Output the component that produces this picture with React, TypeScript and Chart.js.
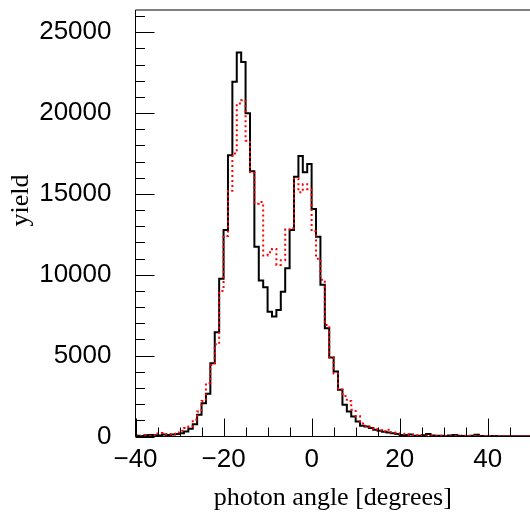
import React, { useEffect, useRef } from "react";
import { Chart, registerables } from "chart.js";

Chart.register(...registerables);

// Histogram binning (1 degree bins starting at -40)
const BIN_START = -40;
const BIN_WIDTH = 1;

// yield per bin, black solid histogram (bins -40 .. 49)
const blackCounts = [
  60, 40, 30, 80, 100, 70, 60, 120, 100, 120,
  150, 200, 310, 480, 760, 1340, 2060, 2650, 4530, 6450,
  9750, 12780, 17400, 21940, 23750, 23170, 19990, 16400, 11740, 9650,
  9230, 7720, 7420, 7830, 8960, 10400, 12780, 16070, 17350, 16340,
  16850, 14070, 12360, 9380, 6700, 4880, 4020, 2890, 1960, 1545,
  1240, 930, 660, 620, 520, 415, 350, 300, 250, 200,
  150, 100, 90, 120, 50, 40, 80, 150, 60, 40,
  50, 30, 60, 100, 40, 30, 20, 40, 110, 30,
  20, 20, 30, 20, 10, 20, 10, 20, 10, 20,
];

// yield per bin, red dotted histogram (bins -40 .. 49)
const redCounts = [
  40, 60, 30, 50, 40, 80, 180, 210, 120, 160,
  250, 350, 520, 620, 1030, 1550, 2200, 3300, 4430, 5700,
  9000, 12400, 15200, 17500, 20600, 20800, 18300, 16300, 14400, 14500,
  11200, 11400, 11600, 10600, 10900, 12800, 12900, 15950, 15100, 15600,
  15300, 12700, 11000, 9700, 6900, 4900, 3900, 2900, 2500, 2200,
  1650, 1250, 800, 650, 600, 450, 380, 320, 420, 250,
  220, 170, 150, 80, 50, 70, 60, 40, 50, 30,
  40, 30, 20, 30, 20, 40, 30, 20, 30, 20,
  20, 30, 20, 10, 20, 20, 10, 20, 10, 20,
];

const xTickValues = [-40, -20, 0, 20, 40];
const yTickValues = [0, 5000, 10000, 15000, 20000, 25000];
const X_MINOR_STEP = 5;
const Y_MINOR_STEP = 1000;
const X_MIN = -40;
const X_MAX = 49.6;
const Y_MAX = 26380;

const xTitle = "photon angle [degrees]";
const yTitle = "yield";

function toSteps(counts: number[]) {
  const pts = counts.map((c, i) => ({ x: BIN_START + i * BIN_WIDTH, y: c }));
  pts.push({ x: BIN_START + counts.length * BIN_WIDTH, y: counts[counts.length - 1] });
  return pts;
}

function fmtX(v: number) {
  return v < 0 ? "\u2212" + Math.abs(v) : String(v);
}

const framePlugin = {
  id: "rootFrame",
  afterDatasetsDraw(chart: any) {
    const { ctx, chartArea, scales } = chart;
    const { left, right, top, bottom } = chartArea;
    const xs = scales.x;
    const ys = scales.y;
    ctx.save();
    ctx.strokeStyle = "#000";
    ctx.lineWidth = 1;
    ctx.beginPath();
    ctx.moveTo(left, top);
    ctx.lineTo(left, bottom);
    ctx.lineTo(right + 2, bottom);
    ctx.moveTo(left, top);
    ctx.lineTo(right + 2, top);
    for (let v = X_MIN; v <= X_MAX; v += X_MINOR_STEP) {
      const px = Math.round(xs.getPixelForValue(v)) + 0.5;
      const len = xTickValues.includes(v) ? 18 : 9;
      ctx.moveTo(px, bottom);
      ctx.lineTo(px, bottom - len);
    }
    for (let v = 0; v <= Y_MAX; v += Y_MINOR_STEP) {
      const py = Math.round(ys.getPixelForValue(v)) + 0.5;
      const len = v % 5000 === 0 ? 19 : 9.5;
      ctx.moveTo(left, py);
      ctx.lineTo(left + len, py);
    }
    ctx.stroke();
    ctx.restore();
  },
};

export default function App() {
  const canvasRef = useRef<HTMLCanvasElement | null>(null);

  useEffect(() => {
    const canvas = canvasRef.current;
    if (!canvas) return;
    const chart = new Chart(canvas, {
      type: "line",
      data: {
        datasets: [
          {
            label: "red",
            data: toSteps(redCounts),
            borderColor: "#ff0000",
            borderWidth: 2,
            borderDash: [2, 3],
            stepped: "after",
            pointRadius: 0,
            fill: false,
            order: 0,
          },
          {
            label: "black",
            data: toSteps(blackCounts),
            borderColor: "#000000",
            borderWidth: 2,
            stepped: "after",
            pointRadius: 0,
            fill: false,
            order: 1,
          },
        ],
      },
      options: {
        animation: false,
        responsive: false,
        events: [],
        layout: { padding: { top: 10, left: 0, right: 0, bottom: 0 } },
        plugins: { legend: { display: false }, tooltip: { enabled: false } },
        scales: {
          x: {
            type: "linear",
            min: X_MIN,
            max: X_MAX,
            afterBuildTicks: (s: any) => {
              s.ticks = xTickValues.map((v) => ({ value: v }));
            },
            afterFit: (s: any) => {
              s.height = 75.5;
              s.paddingLeft = 0;
              s.paddingRight = 0;
            },
            ticks: {
              autoSkip: false,
              maxRotation: 0,
              padding: 8,
              color: "#000",
              font: { family: "Liberation Sans", size: 26 },
              callback: (v: any) => fmtX(Number(v)),
            },
            grid: { display: false, drawTicks: false },
            border: { display: false },
            title: {
              display: true,
              text: xTitle,
              color: "#000",
              font: { family: "Liberation Serif", size: 26, lineHeight: 1 },
              padding: { top: 0, bottom: 1 },
            },
          },
          y: {
            type: "linear",
            min: 0,
            max: Y_MAX,
            afterBuildTicks: (s: any) => {
              s.ticks = yTickValues.map((v) => ({ value: v }));
            },
            afterFit: (s: any) => {
              s.width = 135.5;
              s.paddingTop = 0;
              s.paddingBottom = 0;
            },
            ticks: {
              padding: 24,
              color: "#000",
              font: { family: "Liberation Sans", size: 26 },
              callback: (v: any) => String(v),
            },
            grid: { display: false, drawTicks: false },
            border: { display: false },
            title: {
              display: true,
              text: "       " + yTitle,
              color: "#000",
              font: { family: "Liberation Serif", size: 26, lineHeight: 1 },
              padding: { top: 8, bottom: 0 },
            },
          },
        },
      },
      plugins: [framePlugin],
    });
    return () => chart.destroy();
  }, []);

  return (
    <div style={{ position: "fixed", left: 0, top: 0, width: 530, height: 512, background: "#fff" }}>
      <canvas ref={canvasRef} width={530} height={512} style={{ display: "block", width: 530, height: 512 }} />
    </div>
  );
}
